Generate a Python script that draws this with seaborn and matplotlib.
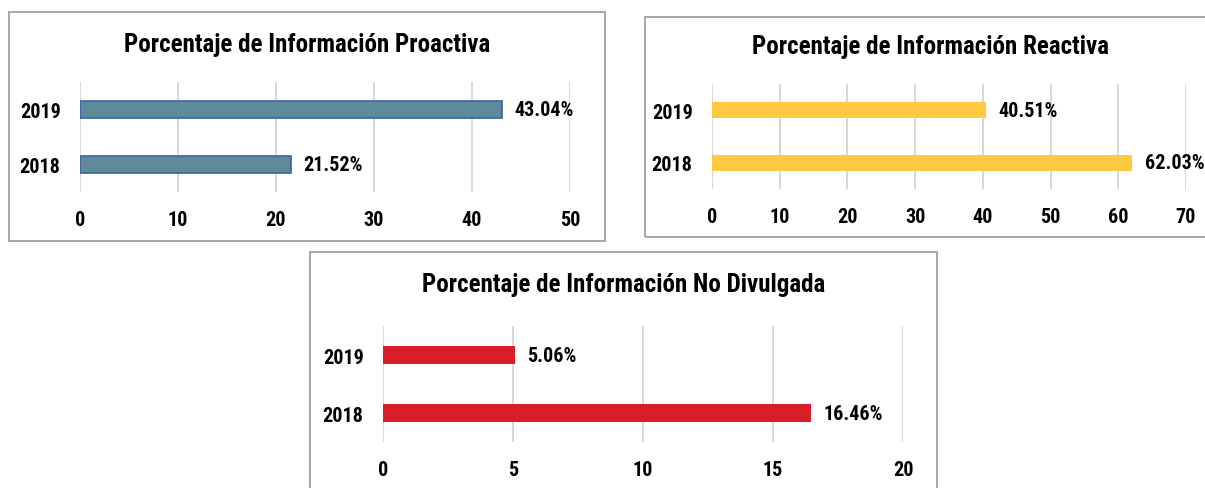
import matplotlib
matplotlib.use("Agg")
import matplotlib.pyplot as plt
import seaborn as sns
import pandas as pd
from matplotlib.patches import Rectangle

anios = ["2019", "2018"]
proactiva = [43.04, 21.52]
reactiva = [40.51, 62.03]
no_divulgada = [5.06, 16.46]

sns.set_theme(style="white")
plt.rcParams['font.family'] = ['Roboto Condensed', 'Liberation Sans', 'DejaVu Sans']
plt.rcParams['font.stretch'] = 'condensed'
plt.rcParams['font.weight'] = 'bold'
plt.rcParams['text.color'] = 'black'
plt.rcParams['xtick.color'] = 'black'
plt.rcParams['ytick.color'] = 'black'

W, H = 1205, 489
fig = plt.figure(figsize=(12.05, 4.89), dpi=100)


def caja(x0, y0, x1, y1):
    fig.patches.append(Rectangle((x0 / W, 1 - y1 / H), (x1 - x0) / W, (y1 - y0) / H,
                                 transform=fig.transFigure, fill=False,
                                 edgecolor='#a6a6a6', lw=1.4))


def panel(x0, x1, y0, y1, valores, color, xmax, paso, titulo, tx, ty, edge=None):
    ax = fig.add_axes([x0 / W, 1 - y1 / H, (x1 - x0) / W, (y1 - y0) / H])
    df = pd.DataFrame({'anio': anios, 'valor': valores})
    sns.barplot(data=df, y='anio', x='valor', color=color, width=0.31, saturation=1,
                edgecolor=edge if edge else color, linewidth=1.2 if edge else 0, ax=ax)
    ax.set_xlim(0, xmax)
    ax.set_xticks(range(0, xmax + 1, paso))
    ax.grid(axis='x', color='#d4d4d4', lw=1.3)
    ax.set_axisbelow(True)
    for s in ax.spines.values():
        s.set_visible(False)
    ax.set_xlabel('')
    ax.set_ylabel('')
    ax.tick_params(axis='x', labelsize=14.5, pad=13, length=0)
    ax.tick_params(axis='y', labelsize=14.5, pad=14, length=0)
    for t in ax.get_xticklabels() + ax.get_yticklabels():
        t.set_fontweight('bold')
    ax.bar_label(ax.containers[0], labels=[f"{v:.2f}%" for v in valores],
                 padding=9, fontsize=14.5, fontweight='bold')
    fig.text(tx / W, 1 - ty / H, titulo, ha='center', va='center',
             fontsize=18, fontweight='bold')
    return ax


caja(9, 13, 605, 242)
caja(645, 18, 1215, 238)
caja(310, 253, 937, 500)

panel(80, 570, 83, 193, proactiva, '#5e8a99', 50, 10,
      'Porcentaje de Información Proactiva', 307, 45, edge='#3a62a8')
panel(712, 1186, 85, 190, reactiva, '#ffc942', 70, 10,
      'Porcentaje de Información Reactiva', 931, 47)
panel(383, 903, 327, 443, no_divulgada, '#d91f26', 20, 5,
      'Porcentaje de Información No Divulgada', 624, 285)

fig.savefig('out.png', dpi=100)
